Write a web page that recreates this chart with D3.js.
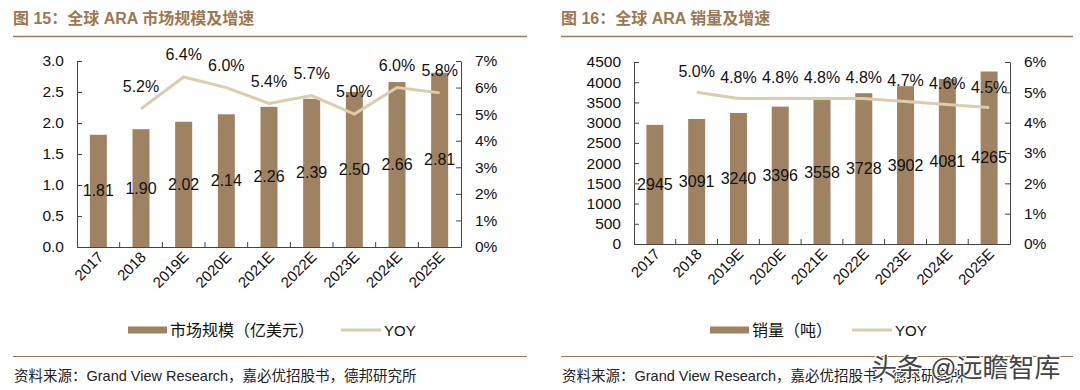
<!DOCTYPE html>
<html><head><meta charset="utf-8">
<script src="https://cdn.jsdelivr.net/npm/d3@7"></script>
<style>
body{margin:0;background:#fff;}
svg{display:block;font-family:"Liberation Sans",Arial,sans-serif;}
</style></head>
<body><svg id="c" width="1080" height="390"></svg>
<script>
const categories = ["2017","2018","2019E","2020E","2021E","2022E","2023E","2024E","2025E"];
const marketSize = [1.81,1.90,2.02,2.14,2.26,2.39,2.50,2.66,2.81];
const marketYoy = [null,5.2,6.4,6.0,5.4,5.7,5.0,6.0,5.8];
const salesVol = [2945,3091,3240,3396,3558,3728,3902,4081,4265];
const salesYoy = [null,5.0,4.8,4.8,4.8,4.8,4.7,4.6,4.5];
const leftTicks1 = [0,0.5,1.0,1.5,2.0,2.5,3.0];
const rightTicks1 = [0,1,2,3,4,5,6,7];
const leftTicks2 = [0,500,1000,1500,2000,2500,3000,3500,4000,4500];
const rightTicks2 = [0,1,2,3,4,5,6];

const BAR = "#9f8261", LINE = "#dacdab", TITLE = "#9c7752", RULE = "#9b7a58";
const MIX = '"Liberation Sans","Noto Sans CJK SC",sans-serif';
const svg = d3.select("#c");

function panel(o){
  const g = svg.append("g");
  g.append("text").attr("x",o.x0).attr("y",24).attr("fill",TITLE)
   .attr("font-family",MIX).attr("font-weight","bold").attr("font-size",16).text(o.title);
  g.append("line").attr("x1",o.x0).attr("x2",o.x1).attr("y1",36.5).attr("y2",36.5)
   .attr("stroke",RULE).attr("stroke-width",1.5);
  g.append("line").attr("x1",o.x0).attr("x2",o.x1).attr("y1",356.5).attr("y2",356.5)
   .attr("stroke",RULE).attr("stroke-width",1.2);
  g.append("text").attr("x",o.x0+1).attr("y",381).attr("fill","#222").attr("font-size",14.5)
   .attr("font-family",MIX).text("资料来源：Grand View Research，嘉必优招股书，德邦研究所");

  const xb = d3.scaleBand().domain(categories).range([o.L,o.R]);
  const yL = d3.scaleLinear().domain(o.yDom).range([o.B,o.T]);
  const yR = d3.scaleLinear().domain(o.rDom).range([o.B,o.T]);
  const cx = c => xb(c)+xb.bandwidth()/2;

  g.selectAll("rect.bar").data(o.bars).enter().append("rect")
   .attr("x",(d,i)=>cx(categories[i])-8.5).attr("width",17)
   .attr("y",d=>yL(d)).attr("height",d=>o.B-yL(d)).attr("fill",BAR);

  const axL = d3.axisLeft(yL).tickValues(o.lTicks).tickFormat(o.lFmt).tickSizeInner(-5).tickSizeOuter(0).tickPadding(13);
  const gl = g.append("g").attr("transform",`translate(${o.L},0)`).call(axL);
  const axR = d3.axisRight(yR).tickValues(o.rTicks).tickFormat(d=>d+"%").tickSizeInner(-5).tickSizeOuter(0).tickPadding(14);
  const gr = g.append("g").attr("transform",`translate(${o.R},0)`).call(axR);
  [gl,gr].forEach(a=>{a.selectAll("text").attr("font-size",15.5).attr("fill","#111").attr("font-family","Liberation Sans, Arial");
    a.selectAll("line,path").attr("stroke","#444");});
  const gx = g.append("g").attr("transform",`translate(0,${o.B})`)
    .call(d3.axisBottom(xb).tickSize(0).tickFormat(d=>d));
  gx.select("path").attr("stroke","#444");
  gx.selectAll(".tick text").attr("font-size",15).attr("fill","#111").attr("font-family","Liberation Sans, Arial")
    .attr("text-anchor","end").attr("dy",0).attr("y",0).attr("x",0)
    .attr("transform","translate(6,11) rotate(-45)");
  const bounds = categories.slice(1).map(c=>xb(c));
  g.selectAll("line.bt").data(bounds).enter().append("line")
   .attr("x1",d=>d).attr("x2",d=>d).attr("y1",o.B).attr("y2",o.B-5).attr("stroke","#444");

  g.selectAll("text.bl").data(o.bars).enter().append("text")
   .attr("x",(d,i)=>cx(categories[i]))
   .attr("y",d=>(yL(d)+o.B)/2+5.5).attr("text-anchor","middle")
   .attr("font-size",16).attr("fill","#111").text(d=>o.barFmt(d));

  const pts = o.yoy.map((v,i)=>({v,i})).filter(d=>d.v!==null);
  const ln = d3.line().x(d=>cx(categories[d.i])).y(d=>yR(d.v));
  g.append("path").attr("d",ln(pts)).attr("fill","none").attr("stroke",LINE).attr("stroke-width",3);
  g.selectAll("text.yl").data(pts).enter().append("text")
   .attr("x",d=>cx(categories[d.i]))
   .attr("y",d=>yR(d.v)-o.lblOff).attr("text-anchor","middle")
   .attr("font-size",16).attr("fill","#111").text(d=>d.v.toFixed(1)+"%");

  const lg = g.append("g");
  lg.append("rect").attr("x",o.legX).attr("y",326.5).attr("width",39).attr("height",7).attr("fill",BAR);
  lg.append("text").attr("x",o.legX+42).attr("y",336).attr("font-family",MIX).attr("font-size",16)
    .attr("fill","#111").text(o.legName);
  lg.append("line").attr("x1",o.legX2).attr("x2",o.legX2+40).attr("y1",330).attr("y2",330)
    .attr("stroke",LINE).attr("stroke-width",3);
  lg.append("text").attr("x",o.legX2+43).attr("y",335.5).attr("font-size",15).attr("fill","#111").text("YOY");
}

panel({x0:13,x1:527,title:"图 15：全球 ARA 市场规模及增速",L:77,R:461,T:61,B:247,
  yDom:[0,3],rDom:[0,7],lTicks:leftTicks1,rTicks:rightTicks1,lFmt:d=>d.toFixed(1),
  bars:marketSize,barFmt:d=>d.toFixed(2),yoy:marketYoy,lblOff:17,
  legX:128,legName:"市场规模（亿美元）",legX2:341});
panel({x0:561,x1:1073,title:"图 16：全球 ARA 销量及增速",L:634,R:1010,T:62,B:244,
  yDom:[0,4500],rDom:[0,6],lTicks:leftTicks2,rTicks:rightTicks2,lFmt:d=>d,
  bars:salesVol,barFmt:d=>d,yoy:salesYoy,lblOff:15,
  legX:710,legName:"销量（吨）",legX2:852});

svg.append("text").attr("x",871).attr("y",377).attr("font-family",MIX).attr("font-size",26)
  .attr("fill","#444").attr("stroke","#fff").attr("stroke-width",2).attr("paint-order","stroke")
  .text("头条 @远瞻智库");
</script></body></html>
